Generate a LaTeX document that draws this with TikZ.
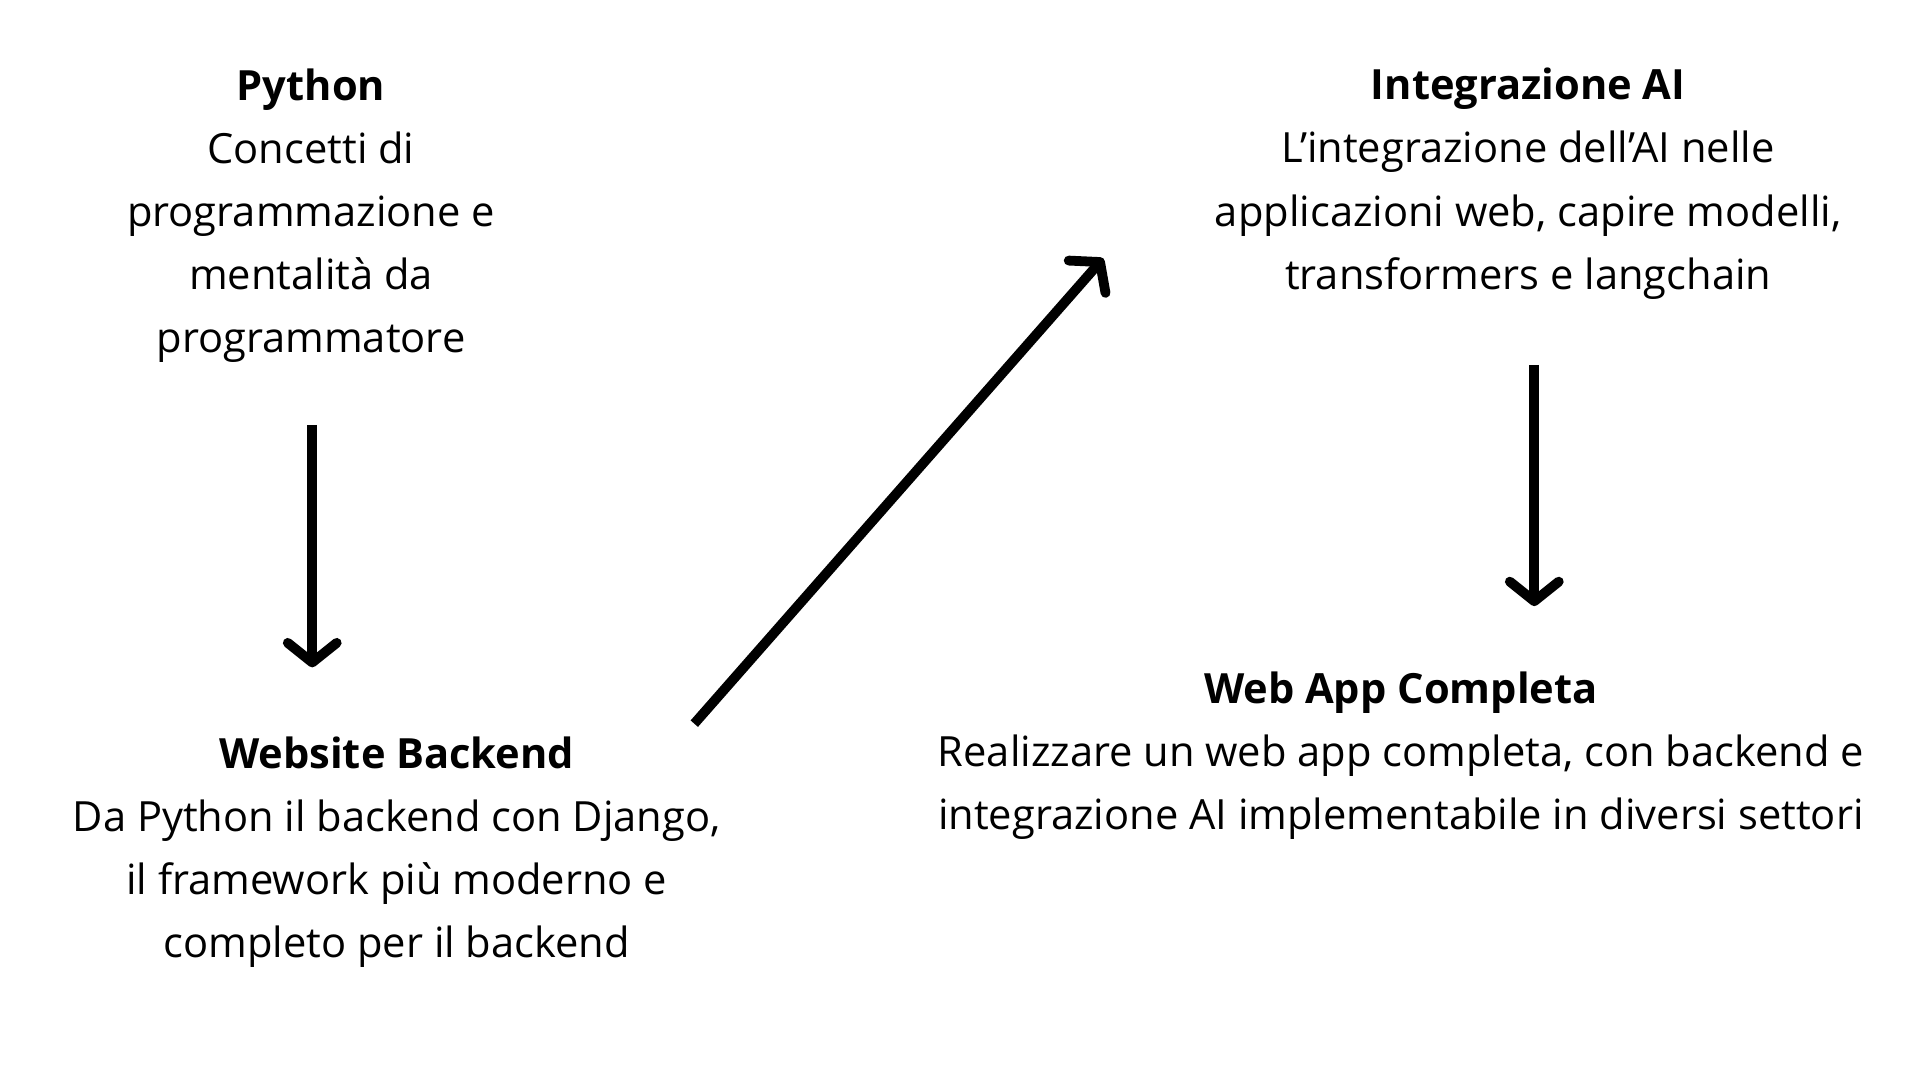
\documentclass[tikz,border=0pt]{standalone}
\usepackage{fontspec}
\setmainfont{Open Sans}
\usetikzlibrary{arrows.meta}
\begin{document}
\begin{tikzpicture}[x=1pt,y=1pt,
  txt/.style={align=center,inner sep=0pt,font=\fontsize{34}{51.5}\selectfont},
  arr/.style={line width=8pt,-{Straight Barb[length=16pt,width=40pt,line width=8pt,round]}}]
\fill[white] (0,0) rectangle (1568,882);
\useasboundingbox (0,0) rectangle (1568,882);
\node[txt] (py) at (254,882-176) {\textbf{Python}\\Concetti di\\programmazione e\\mentalità da\\programmatore};
\node[txt] (wb) at (324,882-696) {\textbf{Website Backend}\\Da Python il backend con Django,\\il framework più moderno e\\completo per il backend};
\node[txt] (ai) at (1248,882-150) {\textbf{Integrazione AI}\\L’integrazione dell’AI nelle\\applicazioni web, capire modelli,\\transformers e langchain};
\node[txt] (wa) at (1144,882-617) {\textbf{Web App Completa}\\Realizzare un web app completa, con backend e\\integrazione AI implementabile in diversi settori};
\coordinate (a1s) at (255,882-347); \coordinate (a1e) at (255,882-545);
\coordinate (a2s) at (567,882-591); \coordinate (a2e) at (901,882-211);
\coordinate (a3s) at (1253,882-298); \coordinate (a3e) at (1253,882-495);
\draw[arr] (a1s) -- (a1e);
\draw[arr] (a2s) -- (a2e);
\draw[arr] (a3s) -- (a3e);
\end{tikzpicture}
\end{document}
